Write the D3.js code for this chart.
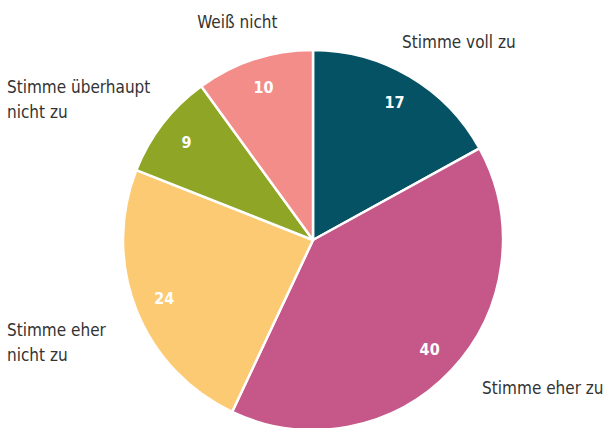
<!DOCTYPE html>
<html>
<head>
<meta charset="utf-8">
<script src="https://cdn.jsdelivr.net/npm/d3@7"></script>
<style>
  body { margin: 0; background: #fff; }
  text { font-family: "Liberation Sans Narrow", "DejaVu Sans Condensed", sans-serif; }
</style>
</head>
<body>
<script>
var w = 606;
var h = 428;

// data
var categories = ["Stimme voll zu", "Stimme eher zu", "Stimme eher nicht zu", "Stimme überhaupt nicht zu", "Weiß nicht"];
var values = [17, 40, 24, 9, 10];
var colors = ["#065265", "#c55889", "#fdca74", "#8fa525", "#f28d89"];

// how each category name is broken over lines
var labelLines = [["Stimme voll zu"], ["Stimme eher zu"], ["Stimme eher", "nicht zu"], ["Stimme überhaupt", "nicht zu"], ["Weiß nicht"]];

// small nudges for the outer labels (dx, dy)
var labelNudge = [[-29, 2], [0, -11], [0, 17], [0, 2], [-4, 3]];

var cx = 313, cy = 240, r = 190;

var svg = d3.select("body")
    .append("svg")
    .attr("width", w)
    .attr("height", h);

var g = svg.append("g")
    .attr("transform", "translate(" + cx + "," + cy + ")");

var pie = d3.pie().sort(null).value(function(d) { return d; });
var arcs = pie(values);

var arc = d3.arc().innerRadius(0).outerRadius(r);
var inner = d3.arc().innerRadius(160).outerRadius(160);
var outer = d3.arc().innerRadius(232).outerRadius(232);

g.selectAll("path")
    .data(arcs)
    .enter()
    .append("path")
    .attr("d", arc)
    .attr("fill", function(d, i) { return colors[i]; })
    .attr("stroke", "#fff")
    .attr("stroke-width", 2.5)
    .attr("stroke-linejoin", "round");

// values inside the slices
g.selectAll("text.val")
    .data(arcs)
    .enter()
    .append("text")
    .attr("class", "val")
    .attr("x", function(d) { return inner.centroid(d)[0]; })
    .attr("y", function(d) { return inner.centroid(d)[1]; })
    .attr("dy", "0.35em")
    .attr("text-anchor", "middle")
    .attr("fill", "#fff")
    .attr("font-weight", "bold")
    .attr("font-size", 16)
    .text(function(d) { return d.value; });

// category labels outside
var lab = g.selectAll("text.lab")
    .data(arcs)
    .enter()
    .append("text")
    .attr("class", "lab")
    .attr("fill", "#333")
    .attr("font-size", 17)
    .attr("text-anchor", function(d) {
        var a = (d.startAngle + d.endAngle) / 2;
        return a > Math.PI * 1.8 ? "middle" : "start";
    })
    .attr("transform", function(d) {
        var a = (d.startAngle + d.endAngle) / 2;
        var p = outer.centroid(d);
        var x = p[0];
        if (a > Math.PI && a < Math.PI * 1.8) x = 7 - cx;   // left labels sit on the margin
        var n = labelLines[d.index].length;
        var nudge = labelNudge[d.index];
        return "translate(" + (x + nudge[0]) + "," + (p[1] - (n - 1) * 12.5 + nudge[1]) + ")";
    });

lab.selectAll("tspan")
    .data(function(d) { return labelLines[d.index]; })
    .enter()
    .append("tspan")
    .attr("x", 0)
    .attr("dy", function(d, i) { return i === 0 ? "0.35em" : "25px"; })
    .text(function(d) { return d; });
</script>
</body>
</html>
